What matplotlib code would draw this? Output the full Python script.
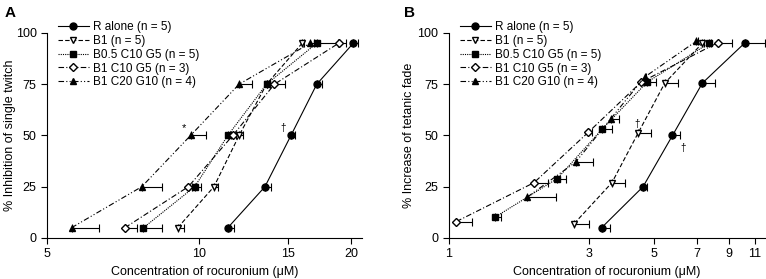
import matplotlib.pyplot as plt
from matplotlib.lines import Line2D
from matplotlib.ticker import NullLocator

plt.rcParams['font.family'] = ['Liberation Sans', 'DejaVu Sans']

# ---------------- DATA ----------------
labels = ["R alone (n = 5)", "B1 (n = 5)", "B0.5 C10 G5 (n = 5)",
          "B1 C10 G5 (n = 3)", "B1 C20 G10 (n = 4)"]

# panel A: % inhibition of single twitch
a_y = [5, 25, 50, 75, 95]
a_r = [11.4, 13.5, 15.2, 17.1, 20.2]
a_r_err = [0.3, 0.4, 0.3, 0.4, 0.4]
a_b1 = [9.07, 10.7, 12.0, 13.6, 16.0]
a_b1_err = [0.25, 0.2, 0.2, 0.2, 0.1]
a_b05 = [7.76, 9.8, 11.4, 13.6, 17.1]
a_b05_err = [0.7, 0.3, 0.15, 0.2, 1.7]
a_c10 = [7.13, 9.52, 11.66, 14.1, 18.9]
a_c10_err = [0.4, 0.15, 0.15, 0.7, 0.6]
a_c20 = [5.59, 7.70, 9.62, 12.0, 16.6]
a_c20_err = [0.76, 0.75, 0.7, 0.7, 0.3]

# panel B: % increase of tetanic fade
b_r = [3.31, 4.58, 5.77, 7.29, 10.2]
b_r_y = [5, 25, 50, 75.5, 95.3]
b_r_err = [0.22, 0.14, 0.37, 0.74, 1.7]
b_b1 = [2.67, 3.59, 4.40, 5.43, 7.29]
b_b1_y = [7, 27, 51, 75.5, 95]
b_b1_err = [0.32, 0.4, 0.49, 0.6, 0.1]
b_b05 = [1.43, 2.34, 3.32, 4.73, 7.68]
b_b05_y = [10, 29, 53, 76, 95]
b_b05_err = [0.08, 0.16, 0.26, 0.33, 0.1]
b_c10 = [1.06, 1.95, 2.98, 4.51, 8.24]
b_c10_y = [8, 27, 51.5, 76, 95.3]
b_c10_err = [0.14, 0.23, 0.1, 0.1, 0.96]
b_c20 = [1.85, 2.70, 3.55, 4.64, 6.96]
b_c20_y = [20, 37, 58, 78.5, 96]
b_c20_err = [0.46, 0.40, 0.25, 0.05, 0.1]

# ---------------- STYLE ----------------
styles = [
    dict(ls="-", marker="o", mfc="black"),
    dict(ls=(0, (4, 2)), marker="v", mfc="white"),
    dict(ls=(0, (1, 1)), marker="s", mfc="black"),
    dict(ls=(0, (5, 2, 1, 2)), marker="D", mfc="white"),
    dict(ls=(0, (5, 2, 1, 2, 1, 2)), marker="^", mfc="black"),
]


def draw(ax, xs, ys, errs):
    handles = []
    for x, y, e, st, lab in zip(xs, ys, errs, styles, labels):
        ms = 4 if st["marker"] == "D" else 5
        ax.errorbar(x, y, xerr=[[0] * len(e), e], color="black", lw=0.8,
                    ls=st["ls"], marker=st["marker"], mfc=st["mfc"], mec="black",
                    ms=ms, ecolor="black", elinewidth=0.8, capsize=3,
                    capthick=0.8)
        handles.append(Line2D([], [], color="black", lw=0.8, ls=st["ls"],
                              marker=st["marker"], mfc=st["mfc"], mec="black",
                              ms=ms))
    ax.set_ylim(0, 100)
    ax.set_yticks([0, 25, 50, 75, 100])
    ax.spines["top"].set_visible(False)
    ax.spines["right"].set_visible(False)
    ax.tick_params(direction="out", length=4, width=0.8, labelsize=9)
    ax.xaxis.set_minor_locator(NullLocator())
    ax.set_xlabel("Concentration of rocuronium (\u03bcM)", fontsize=9)
    ax.legend(handles, labels, loc="upper left", bbox_to_anchor=(0.02, 1.08),
              frameon=False, fontsize=8.5, handlelength=2.6, handletextpad=0.4,
              labelspacing=0.15, borderaxespad=0)


fig = plt.figure(figsize=(7.66, 2.79), dpi=100)
axA = fig.add_axes([0.0614, 0.147, 0.411, 0.735])
axB = fig.add_axes([0.586, 0.147, 0.4125, 0.735])

# panel A
axA.set_xscale("log")
draw(axA, [a_r, a_b1, a_b05, a_c10, a_c20], [a_y] * 5,
     [a_r_err, a_b1_err, a_b05_err, a_c10_err, a_c20_err])
axA.set_xlim(5, 21)
axA.set_xticks([5, 10, 15, 20])
axA.set_xticklabels(["5", "10", "15", "20"])
axA.xaxis.set_minor_locator(NullLocator())
axA.set_ylabel("% Inhibition of single twitch", fontsize=9)
axA.yaxis.set_label_coords(-0.100, 0.5)
axA.text(9.33, 53.7, "*", ha="center", va="center", fontsize=8)
axA.text(14.67, 53.7, "\u2020", ha="center", va="center", fontsize=7)

# panel B
axB.set_xscale("log")
draw(axB, [b_r, b_b1, b_b05, b_c10, b_c20],
     [b_r_y, b_b1_y, b_b05_y, b_c10_y, b_c20_y],
     [b_r_err, b_b1_err, b_b05_err, b_c10_err, b_c20_err])
axB.set_xlim(1, 11.9)
axB.set_xticks([1, 3, 5, 7, 9, 11])
axB.set_xticklabels(["1", "3", "5", "7", "9", "11"])
axB.xaxis.set_minor_locator(NullLocator())
axB.set_ylabel("% Increase of tetanic fade", fontsize=9)
axB.yaxis.set_label_coords(-0.108, 0.5)
axB.text(4.36, 55.6, "\u2020", ha="center", va="center", fontsize=7)
axB.text(6.25, 43.9, "\u2020", ha="center", va="center", fontsize=7)

fig.text(0.006, 0.955, "A", fontsize=11, fontweight="bold", va="center")
fig.text(0.527, 0.955, "B", fontsize=11, fontweight="bold", va="center")

fig.savefig("out.png", dpi=100)
